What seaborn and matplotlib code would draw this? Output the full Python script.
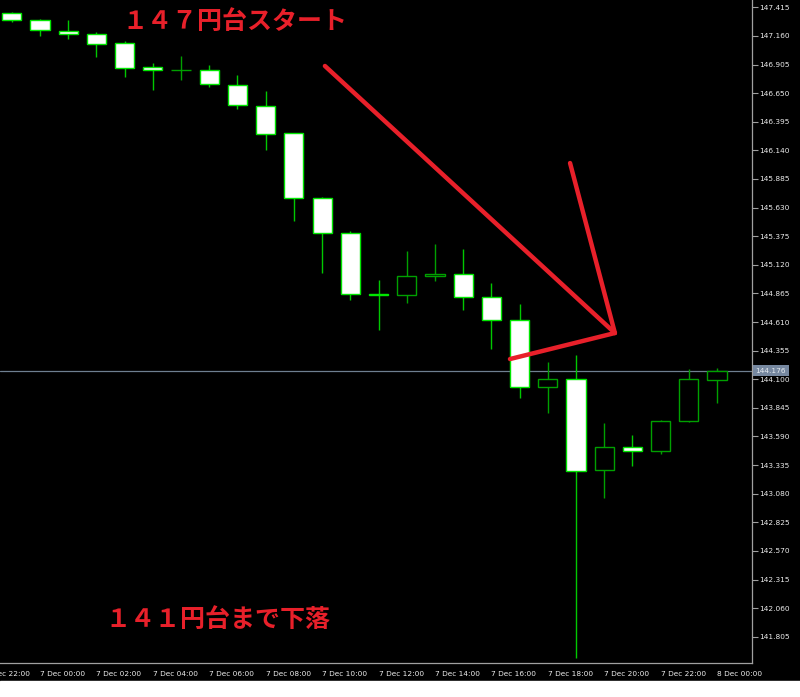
import matplotlib
matplotlib.use('Agg')
import matplotlib.pyplot as plt
from matplotlib import font_manager
from matplotlib.patches import Rectangle
import numpy as np
import pandas as pd
import seaborn as sns


# hourly candles, 6 Dec 23:00 -> 8 Dec 00:00 (index 0 = 6 Dec 23:00)
hours = list(range(26))
opens = [147.367, 147.305, 147.201, 147.180, 147.094, 146.880, 146.853, 146.856, 146.725, 146.535,
         146.292, 145.718, 145.401, 144.860, 144.848, 145.023, 145.038, 144.836, 144.628, 144.031,
         144.102, 143.288, 143.497, 143.461, 143.728, 144.096]
highs = [147.376, 147.310, 147.302, 147.192, 147.112, 146.921, 146.984, 146.898, 146.812, 146.669,
         146.295, 145.720, 145.419, 144.985, 145.240, 145.303, 145.261, 144.955, 144.768, 144.254,
         144.316, 143.713, 143.600, 143.737, 144.189, 144.200]
lows = [147.284, 147.159, 147.132, 146.969, 146.796, 146.678, 146.767, 146.702, 146.506, 146.143,
        145.513, 145.050, 144.806, 144.539, 144.782, 144.978, 144.714, 144.370, 143.936, 143.796,
        141.615, 143.039, 143.329, 143.434, 143.716, 143.888]
closes = [147.302, 147.210, 147.177, 147.091, 146.877, 146.856, 146.858, 146.729, 146.542, 146.288,
          145.715, 145.401, 144.857, 144.853, 145.023, 145.035, 144.833, 144.631, 144.034, 144.105,
          143.280, 143.499, 143.461, 143.728, 144.099, 144.176]
last_price = 144.176

# axis ticks
xtick_pos = [-1, 1, 3, 5, 7, 9, 11, 13, 15, 17, 19, 21, 23, 25]
xtick_labels = ['6 Dec 22:00', '7 Dec 00:00', '7 Dec 02:00', '7 Dec 04:00', '7 Dec 06:00',
                '7 Dec 08:00', '7 Dec 10:00', '7 Dec 12:00', '7 Dec 14:00', '7 Dec 16:00',
                '7 Dec 18:00', '7 Dec 20:00', '7 Dec 22:00', '8 Dec 00:00']
ytick_vals = [141.805, 142.060, 142.315, 142.570, 142.825, 143.080, 143.335, 143.590, 143.845,
              144.100, 144.355, 144.610, 144.865, 145.120, 145.375, 145.630, 145.885, 146.140,
              146.395, 146.650, 146.905, 147.160, 147.415]

# hand-drawn arrows (hour index, price)
arrow_long = [(11.10, 146.892), (21.38, 144.512)]
arrow_short = [(19.79, 146.027), (21.38, 144.512)]
arrow_base = [(17.66, 144.280), (21.38, 144.512)]
note_top = '１４７円台スタート'
note_bottom = '１４１円台まで下落'

df = pd.DataFrame({'hour': hours, 'open': opens, 'high': highs, 'low': lows, 'close': closes})
df['bull'] = df['close'] >= df['open']

sns.set_theme(style='dark', rc={'axes.facecolor': 'black', 'figure.facecolor': 'black'})
# narrow font for the MT4-style axis labels, if there is one
installed = {f.name for f in font_manager.fontManager.ttflist}
axis_font = 'DejaVu Sans Condensed' if 'DejaVu Sans Condensed' in installed else 'DejaVu Sans'
plt.rcParams['font.family'] = [axis_font]
lab_size = 5.8 if axis_font == 'DejaVu Sans Condensed' else 5.3

fig = plt.figure(figsize=(8, 6.97), dpi=100)
ax = fig.add_axes([0, 34 / 697, 752 / 800, 663 / 697])
ax.set_facecolor('black')

bull_edge = '#00a000'
bear_edge = '#00e600'

# wicks
for bull, grp in df.groupby('bull'):
    ax.vlines(grp['hour'], grp['low'], grp['high'],
              color=bull_edge if bull else '#00c800', lw=1, zorder=2)

# bodies
body_h = (df['close'] - df['open']).abs().clip(lower=0.004)
body_b = df[['open', 'close']].min(axis=1)
for bull, grp in df.groupby('bull'):
    ax.bar(grp['hour'], body_h[grp.index], bottom=body_b[grp.index], width=0.68,
           color='black' if bull else 'white',
           edgecolor=bull_edge if bull else bear_edge, linewidth=1, zorder=3)

# current price line
ax.axhline(last_price, color='#6e7f90', lw=0.9, zorder=1)
ax.annotate(f'{last_price:.3f}', xy=(1.0, last_price), xycoords=('axes fraction', 'data'),
            xytext=(2.5, 0), textcoords='offset points', ha='left', va='center',
            fontsize=lab_size, color='#e4eaf0', annotation_clip=False,
            bbox=dict(boxstyle='square,pad=0.35', fc='#7688a0', ec='none'))

# red arrows
for seg in [arrow_long, arrow_short, arrow_base]:
    xs, ys = zip(*seg)
    ax.plot(xs, ys, color='#e8202a', lw=3.2, solid_capstyle='round', zorder=5)

ax.yaxis.tick_right()
ax.set_yticks(ytick_vals)
ax.set_yticklabels([f'{v:.3f}' for v in ytick_vals])
ax.set_xticks(xtick_pos)
ax.set_xticklabels(xtick_labels, ha='left')
ax.set_xlim(-0.418, 26.24)
ax.set_ylim(141.571, 147.480)
ax.tick_params(axis='both', colors='#a0a0a0', labelcolor='#ececec', labelsize=lab_size,
               length=4, width=0.8, direction='out')
ax.tick_params(axis='y', pad=1.5)
ax.tick_params(axis='x', pad=1.5)
ax.grid(False)

# the first tick sits left of the view, draw its (cut) label by hand
ax.annotate(xtick_labels[0], xy=(xtick_pos[0], 0), xycoords=('data', 'axes fraction'),
            xytext=(1, -5.5), textcoords='offset points', ha='left', va='top',
            fontsize=lab_size, color='#ececec', annotation_clip=False)

for side in ['left', 'top']:
    ax.spines[side].set_visible(False)
for side in ['right', 'bottom']:
    ax.spines[side].set_visible(True)
    ax.spines[side].set_color('#a0a0a0')
    ax.spines[side].set_linewidth(0.9)

# notes
fig.text(122 / 800, 1 - 22 / 697, note_top, color='#e8202a', fontsize=18, fontweight='bold',
         family=['Noto Sans CJK JP', 'DejaVu Sans'], ha='left', va='center')
fig.text(105 / 800, 1 - 620 / 697, note_bottom, color='#e8202a', fontsize=18, fontweight='bold',
         family=['Noto Sans CJK JP', 'DejaVu Sans'], ha='left', va='center')

# white strip under the screenshot
fig.patches.append(Rectangle((0, 0), 1, 16 / 697, transform=fig.transFigure,
                             color='white', zorder=10))

fig.savefig('out.png', dpi=100, facecolor='black')
